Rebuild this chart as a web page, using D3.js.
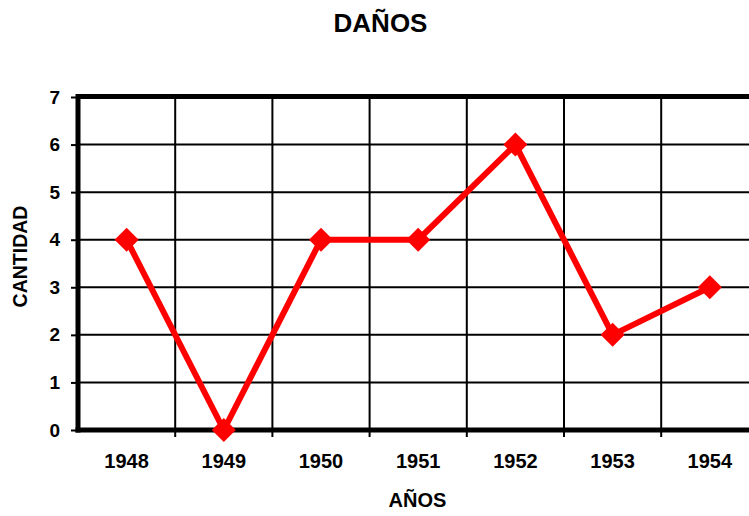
<!DOCTYPE html>
<html>
<head>
<meta charset="utf-8">
<script src="https://cdn.jsdelivr.net/npm/d3@7/dist/d3.min.js"></script>
<style>
  body { margin: 0; background: #fff; }
  svg { display: block; font-family: "Liberation Sans", Arial, sans-serif; font-weight: bold; }
</style>
</head>
<body>
<svg id="chart" width="749" height="516"></svg>
<script>
const title = "DAÑOS";
const xTitle = "AÑOS";
const yTitle = "CANTIDAD";
const years = ["1948", "1949", "1950", "1951", "1952", "1953", "1954"];
const values = [4, 0, 4, 4, 6, 2, 3];
const yTicks = [0, 1, 2, 3, 4, 5, 6, 7];

(function () {
const svg = d3.select("#chart");
const pLeft = 78, pTop = 97, pBottom = 430, pRight = 758.4;
const FF = "Liberation Sans, Arial, sans-serif";

const x = d3.scaleBand().domain(years).range([pLeft, pRight]).padding(0);
const y = d3.scaleLinear().domain([0, 7]).range([pBottom, pTop]);

// horizontal gridlines
svg.append("g").selectAll("line").data(yTicks.slice(1)).join("line")
  .attr("x1", pLeft).attr("x2", pRight)
  .attr("y1", d => y(d)).attr("y2", d => y(d))
  .attr("stroke", "#000").attr("stroke-width", 2);

// vertical gridlines at category boundaries
const bounds = years.slice(1).map(d => x(d));
svg.append("g").selectAll("line").data(bounds).join("line")
  .attr("x1", d => d).attr("x2", d => d)
  .attr("y1", pTop).attr("y2", pBottom + 7)
  .attr("stroke", "#000").attr("stroke-width", 2);

// top border
svg.append("line").attr("x1", pLeft - 2).attr("x2", pRight)
  .attr("y1", pTop - 0.5).attr("y2", pTop - 0.5)
  .attr("stroke", "#000").attr("stroke-width", 5);

// y axis
const yAxis = svg.append("g").attr("transform", `translate(${pLeft},0)`)
  .call(d3.axisLeft(y).tickValues(yTicks).tickFormat(d3.format("d")).tickSize(7).tickPadding(11));
yAxis.select(".domain").remove();
yAxis.selectAll(".tick line").attr("stroke", "#000").attr("stroke-width", 2);
yAxis.selectAll(".tick text").attr("font-size", 19).attr("font-weight", "bold").attr("fill", "#000")
  .attr("font-family", FF);
svg.append("line").attr("x1", pLeft).attr("x2", pLeft)
  .attr("y1", pTop - 3).attr("y2", pBottom + 2.5)
  .attr("stroke", "#000").attr("stroke-width", 5);

// x axis
const xAxis = svg.append("g").attr("transform", `translate(0,${pBottom})`)
  .call(d3.axisBottom(x).tickSize(0).tickPadding(24));
xAxis.select(".domain").remove();
xAxis.selectAll(".tick text").attr("font-size", 20).attr("font-weight", "bold").attr("fill", "#000")
  .attr("font-family", FF);
svg.append("line").attr("x1", pLeft - 2.5).attr("x2", pRight)
  .attr("y1", pBottom).attr("y2", pBottom)
  .attr("stroke", "#000").attr("stroke-width", 5);

// line
const pts = years.map((d, i) => [x(d) + x.bandwidth() / 2, y(values[i])]);
svg.append("path").attr("d", d3.line()(pts))
  .attr("fill", "none").attr("stroke", "#ff0000").attr("stroke-width", 6)
  .attr("stroke-linejoin", "miter");

// diamond markers
svg.append("g").selectAll("path").data(pts).join("path")
  .attr("transform", d => `translate(${d[0]},${d[1]})`)
  .attr("d", "M0,-12L12,0L0,12L-12,0Z")
  .attr("fill", "#ff0000");

// titles
svg.append("text").attr("x", 380.5).attr("y", 32).attr("text-anchor", "middle")
  .attr("font-size", 26).text(title);
svg.append("text").attr("x", 417.5).attr("y", 507).attr("text-anchor", "middle")
  .attr("font-size", 20).text(xTitle);
svg.append("text").attr("transform", "translate(26.5,256.5) rotate(-90)").attr("text-anchor", "middle")
  .attr("font-size", 19.5).text(yTitle);
})();
</script>
</body>
</html>
